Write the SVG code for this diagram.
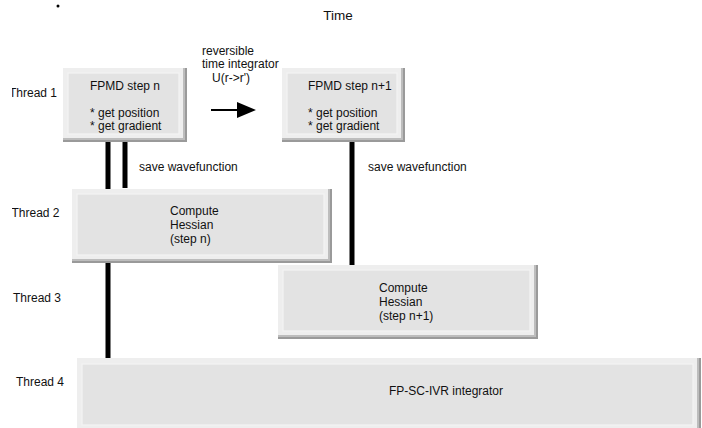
<svg xmlns="http://www.w3.org/2000/svg" width="702" height="428" viewBox="0 0 702 428">
<style>
text{font-family:"Liberation Sans",Arial,sans-serif;font-size:12px;fill:#111}
.d1{fill:#9a9a9a}.d2{fill:#bdbdbd}.lt{fill:#eeeeee}.in{fill:#e3e3e3;stroke:#f4f4f4;stroke-width:1.2}
.wire{stroke:#000;stroke-width:5;fill:none}
</style>
<defs>
<clipPath id="lab"><rect x="12" y="0" width="100" height="428"/></clipPath>
</defs>
<rect width="702" height="428" fill="#fff"/>
<circle cx="58" cy="6" r="1.5" fill="#000"/>
<text x="338" y="20" text-anchor="middle" style="font-size:13.5px">Time</text>
<g id="labels" clip-path="url(#lab)">
<text x="9" y="97">Thread 1</text>
<text x="11.5" y="217">Thread 2</text>
<text x="13" y="302">Thread 3</text>
<text x="16" y="386">Thread 4</text>
</g>
<g id="connectors">
<line class="wire" x1="108" y1="142" x2="108" y2="358"/>
<line class="wire" x1="125" y1="142" x2="125" y2="188"/>
<line class="wire" x1="352" y1="142" x2="352" y2="265"/>
<line x1="211" y1="110" x2="238" y2="110" stroke="#000" stroke-width="2"/>
<polygon points="237,102 256,110 237,118" fill="#000"/>
</g>
<g id="arrow-label">
<text x="202" y="55">reversible</text>
<text x="202" y="68">time integrator</text>
<text x="212" y="82">U(r-&gt;r')</text>
</g>
<g id="fpmd-n">
<rect class="d1" x="63" y="68" width="124" height="74"/>
<rect class="d2" x="63" y="68" width="122" height="72"/>
<rect class="lt" x="63" y="68" width="120" height="70"/>
<rect class="in" x="68" y="73" width="111" height="61"/>
<text x="90" y="90">FPMD step n</text>
<text x="90" y="117">* get position</text>
<text x="90" y="130">* get gradient</text>
</g>
<g id="fpmd-n1">
<rect class="d1" x="282" y="68" width="123" height="74"/>
<rect class="d2" x="282" y="68" width="121" height="72"/>
<rect class="lt" x="282" y="68" width="119" height="70"/>
<rect class="in" x="287" y="73" width="110" height="61"/>
<text x="308" y="90">FPMD step n+1</text>
<text x="308" y="117">* get position</text>
<text x="308" y="130">* get gradient</text>
</g>
<text x="139" y="171">save wavefunction</text>
<text x="368" y="171">save wavefunction</text>
<g id="hessian-n">
<rect class="d1" x="72" y="189" width="260" height="74"/>
<rect class="d2" x="72" y="189" width="258" height="72"/>
<rect class="lt" x="72" y="189" width="256" height="70"/>
<rect class="in" x="77" y="194" width="247" height="61"/>
<text x="170" y="215">Compute</text>
<text x="170" y="229">Hessian</text>
<text x="170" y="243">(step n)</text>
</g>
<g id="hessian-n1">
<rect class="d1" x="278" y="265" width="260" height="74"/>
<rect class="d2" x="278" y="265" width="258" height="72"/>
<rect class="lt" x="278" y="265" width="256" height="70"/>
<rect class="in" x="283" y="270" width="247" height="61"/>
<text x="379" y="292">Compute</text>
<text x="379" y="306">Hessian</text>
<text x="379" y="320">(step n+1)</text>
</g>
<g id="integrator">
<rect class="d1" x="77" y="358" width="624" height="74"/>
<rect class="d2" x="77" y="358" width="622" height="72"/>
<rect class="lt" x="77" y="358" width="620" height="70"/>
<rect class="in" x="82" y="364" width="611" height="61"/>
<text x="389" y="395">FP-SC-IVR integrator</text>
</g>
</svg>
